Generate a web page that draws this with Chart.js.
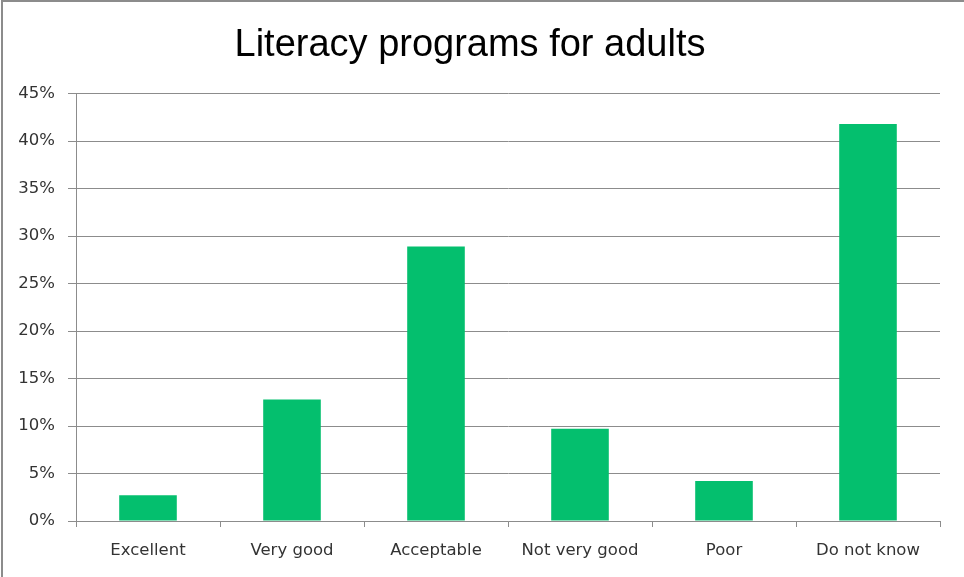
<!DOCTYPE html>
<html>
<head>
<meta charset="utf-8">
<script src="https://cdn.jsdelivr.net/npm/chart.js@4"></script>
<style>
  html, body { margin: 0; padding: 0; background: #fff; }
  #wrap { position: relative; width: 964px; height: 577px; }
  #chart { display: block; }
  #frame {
    position: absolute;
    left: 1px; top: 0; right: 0; bottom: 0;
    border-top: 2px solid #8c8c8c;
    border-left: 2px solid #8c8c8c;
    pointer-events: none;
  }
</style>
</head>
<body>
<div id="wrap">
  <canvas id="chart" width="964" height="577"></canvas>
  <div id="frame"></div>
</div>
<script>
const categories = ["Excellent", "Very good", "Acceptable", "Not very good", "Poor", "Do not know"];
const shares = [2.7, 12.8, 28.9, 9.7, 4.2, 41.8];
const yTicks = [0, 5, 10, 15, 20, 25, 30, 35, 40, 45];

const gridColor = "#8c8c8c";
const textColor = "#333";

const chart = new Chart(document.getElementById("chart"), {
  type: "bar",
  data: {
    labels: categories,
    datasets: [{
      label: "Share",
      data: shares,
      backgroundColor: "#04bf6e",
      borderWidth: 0,
      barPercentage: 0.4,
      categoryPercentage: 1
    }]
  },
  options: {
    responsive: false,
    animation: false,
    layout: { padding: { left: 0, right: 24, top: 0, bottom: 0 } },
    plugins: {
      legend: { display: false },
      tooltip: { enabled: false },
      title: {
        display: true,
        text: "Literacy programs for adults",
        color: "#000",
        font: { family: "Liberation Sans, Arial, sans-serif", size: 38, weight: "normal" },
        padding: { top: 23, bottom: 25 }
      }
    },
    scales: {
      x: {
        grid: {
          display: true,
          drawOnChartArea: false,
          drawTicks: true,
          tickLength: 6,
          color: gridColor,
          offset: true
        },
        border: { color: gridColor, width: 1 },
        ticks: {
          color: textColor,
          font: { family: "DejaVu Sans, sans-serif", size: 16.5 },
          padding: 14,
          maxRotation: 0
        },
        afterFit: s => { s.height = 56; }
      },
      y: {
        min: 0,
        max: 45,
        afterBuildTicks: s => { s.ticks = yTicks.map(v => ({ value: v })); },
        grid: {
          color: gridColor,
          tickLength: 8,
          drawTicks: true
        },
        border: { color: gridColor, width: 1 },
        ticks: {
          color: textColor,
          font: { family: "DejaVu Sans, sans-serif", size: 16.5 },
          padding: 13,
          callback: v => v + "%"
        },
        afterFit: s => { s.width = 76; }
      }
    }
  }
});
</script>
</body>
</html>
